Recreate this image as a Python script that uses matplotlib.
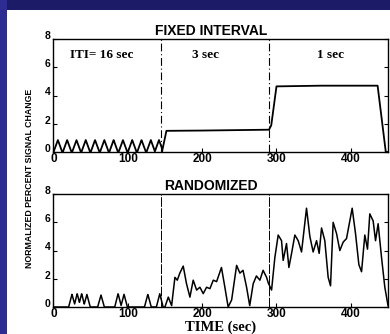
import numpy as np
import matplotlib
matplotlib.use("Agg")
import matplotlib.pyplot as plt
import matplotlib.transforms as mtransforms
from matplotlib.patches import Rectangle

# block boundaries (sec) and labels
boundaries = [145, 290]
block_labels = ["ITI= 16 sec", "3 sec", "1 sec"]
block_label_x = [65, 204, 372]

# fixed interval: triangle peaks in first block, then plateaus
fixed_peaks = [6, 18.5, 31, 43.5, 56, 68.5, 81, 93.5, 106, 118.5, 131, 142]
fixed_peak_h = 0.85
fixed_t = [146, 152, 200, 250, 290, 293, 300, 360, 436, 447, 450]
fixed_v = [0.0, 1.5, 1.52, 1.55, 1.58, 1.9, 4.65, 4.7, 4.7, 0.0, 0.0]

# randomized: isolated responses in first block, then trace
rand_peaks = [25, 32, 38, 45, 64, 87, 95, 127, 143]
rand_peak_h = [0.9, 0.95, 0.95, 0.9, 0.85, 0.95, 0.9, 0.9, 0.95]
rand_t = [150, 154.5, 159, 163.4, 166.6, 170, 174.6, 179, 183.6, 188, 192.6, 197,
          201.5, 206, 210.5, 215, 219.5, 226, 230.6, 235, 239.7, 246.4, 250.8, 255,
          259.8, 264, 268.7, 273, 277.7, 282, 286.7, 289, 293.4, 297.8, 302.3, 306.8,
          309, 313.5, 316.7, 320.3, 324.7, 329.2, 333.7, 340.4, 344.9, 349.3, 353.9,
          357.4, 360.6, 365, 369.5, 372.7, 376.2, 380.8, 385.2, 389.7, 394.2, 401.8,
          406.3, 410.8, 414.4, 418.8, 422.4, 425.5, 430, 433.2, 436.7, 441.3, 445.7, 450]
rand_v = [0.0, 0.7, 0.1, 2.1, 1.9, 2.4, 2.9, 1.65, 0.7, 1.9, 1.2, 1.4,
          0.95, 1.4, 1.3, 1.9, 1.8, 2.8, 1.4, 0.0, 0.5, 2.95, 2.4, 2.6,
          1.4, 0.1, 1.65, 2.2, 1.9, 2.6, 2.1, 1.7, 1.2, 3.5, 5.1, 4.7,
          3.3, 4.5, 2.8, 3.8, 5.1, 4.7, 3.9, 7.0, 5.0, 3.9, 4.7,
          3.8, 5.6, 4.7, 2.1, 1.5, 6.0, 5.2, 4.0, 4.6, 4.85, 7.0,
          5.2, 3.0, 2.5, 5.1, 4.1, 6.6, 6.1, 4.7, 5.9, 3.5, 1.4, 0.1]

xticks = [0, 100, 200, 300, 400]
yticks = [0, 2, 4, 6, 8]


def triangles(peaks, heights, t_end, half=4.5):
    t = np.linspace(0, t_end, 800)
    v = np.zeros_like(t)
    for p, h in zip(peaks, heights):
        v = np.maximum(v, h * np.clip(1 - np.abs(t - p) / half, 0, None))
    return t, v


fig = plt.figure(figsize=(3.9, 3.34), dpi=100)
fig.patch.set_facecolor("#1b1b68")
fig.patches.append(Rectangle((0, 0), 7 / 390, 1, transform=fig.transFigure,
                             facecolor="#2c2c92", edgecolor="none", zorder=-2))
fig.patches.append(Rectangle((7 / 390, 0), 1, 1 - 10 / 334, transform=fig.transFigure,
                             facecolor="white", edgecolor="none", zorder=-2))

ax1 = fig.add_axes([53.4 / 390, 182 / 334, 0.858, 0.338])
ax2 = fig.add_axes([53.4 / 390, 27 / 334, 0.858, 0.338])

# top panel
tt, tv = triangles(fixed_peaks, [fixed_peak_h] * len(fixed_peaks), 146, half=5.8)
ax1.plot(np.concatenate([tt, fixed_t]), np.concatenate([tv, fixed_v]),
         color="black", lw=1.3)
for b in boundaries:
    ax1.axvline(b, color="black", lw=0.8, dashes=(7, 2.5, 1, 2.5))
for lab, x in zip(block_labels, block_label_x):
    ax1.text(x, 6.9, lab, ha="center", va="center", fontsize=9.5,
             family="Liberation Serif", fontweight="bold")
ax1.set_title("FIXED INTERVAL", fontsize=10, fontweight="bold",
              family="Liberation Sans", pad=3, x=0.47)

# bottom panel
rt, rv = triangles(rand_peaks, rand_peak_h, 150)
ax2.plot(np.concatenate([rt, rand_t]), np.concatenate([rv, rand_v]),
         color="black", lw=1.1)
for b in boundaries:
    ax2.axvline(b, color="black", lw=0.7, dashes=(10, 1.5))
ax2.set_title("RANDOMIZED", fontsize=10, fontweight="bold",
              family="Liberation Sans", pad=3, x=0.47)
ax2.set_xlabel("TIME (sec)", fontsize=10.5, family="Liberation Serif",
               fontweight="bold", labelpad=0)

shift_up = mtransforms.ScaledTranslation(-1 / 72, 3 / 72, fig.dpi_scale_trans)
for ax in (ax1, ax2):
    ax.set_facecolor("white")
    ax.set_xlim(0, 450)
    ax.set_ylim(0, 8)
    ax.set_xticks(xticks)
    ax.set_yticks(yticks)
    ax.tick_params(direction="in", length=3, width=0.8, pad=1,
                   top=False, right=True)
    ax.tick_params(axis="x", labelsize=8.5)
    ax.tick_params(axis="y", labelsize=7.5)
    for lbl in ax.get_xticklabels() + ax.get_yticklabels():
        lbl.set_fontweight("bold")
        lbl.set_family("Liberation Sans")
    for lbl in ax.get_yticklabels():
        lbl.set_transform(lbl.get_transform() + shift_up)
    for s in ax.spines.values():
        s.set_linewidth(1.0)

fig.text(30 / 390, 1 - 178 / 334, "NORMALIZED PERCENT SIGNAL CHANGE",
         rotation=90, ha="center", va="center", fontsize=6.3,
         fontweight="bold", family="Liberation Sans")

fig.savefig("out.png", dpi=100, facecolor=fig.get_facecolor())
